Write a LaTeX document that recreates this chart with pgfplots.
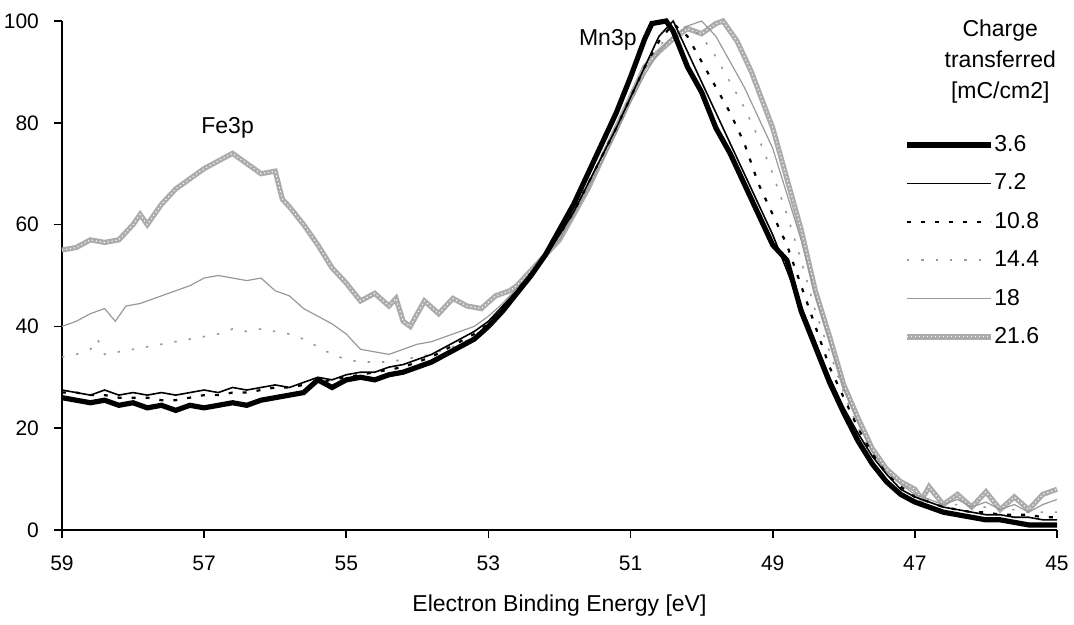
\documentclass[border=0pt]{standalone}
\usepackage{fontspec}
\setmainfont{Liberation Sans}
\usepackage{pgfplots}
\pgfplotsset{compat=1.18}

% 21.6 mC/cm2 (thick grey)
\pgfplotstableread{
E y
59.0 55
58.8 55.5
58.6 57
58.4 56.5
58.2 57
58.0 60
57.9 62
57.8 60
57.6 64
57.4 67
57.2 69
57.0 71
56.8 72.5
56.6 74
56.4 72
56.2 70
56.0 70.5
55.9 65
55.8 63.5
55.6 60
55.4 56
55.2 51.5
55.0 48.5
54.8 45
54.6 46.5
54.4 44
54.3 45.5
54.2 41
54.1 40
53.9 45
53.7 42.5
53.5 45.5
53.3 44
53.1 43.5
52.9 46
52.7 47
52.6 48
52.4 51
52.2 54
52.0 57
51.8 62
51.6 67
51.4 73
51.2 79
51.0 85
50.8 91
50.6 94
50.4 96.5
50.2 98.5
50.0 97.5
49.8 99.5
49.7 100
49.5 96
49.3 90
49.0 79
48.8 69
48.6 59
48.4 47
48.2 38
48.0 28.5
47.8 22
47.6 16
47.4 12
47.2 9.5
47.0 8
46.9 6
46.8 8.5
46.6 5
46.4 7
46.2 4.5
46.0 7.5
45.8 4
45.6 6.5
45.4 4
45.2 7
45.0 8
}\seriesG

% 18 mC/cm2 (thin grey)
\pgfplotstableread{
E y
59.0 40
58.8 41
58.6 42.5
58.4 43.5
58.25 41
58.1 44
57.9 44.5
57.7 45.5
57.4 47
57.2 48
57.0 49.5
56.8 50
56.6 49.5
56.4 49
56.2 49.5
56.0 47
55.8 46
55.6 43.5
55.4 42
55.2 40.5
55.0 38.5
54.8 35.5
54.6 35
54.4 34.5
54.2 35.5
54.0 36.5
53.8 37
53.6 38
53.4 39
53.2 40
53.0 42
52.8 44.5
52.6 47.5
52.4 50.5
52.2 54
52.0 57
51.8 62
51.6 67
51.4 72.5
51.2 78
51.0 84
50.8 89.5
50.6 94
50.4 97
50.2 99
50.0 100
49.8 97
49.6 92
49.4 87
49.2 81
49.0 75
48.8 66
48.6 57
48.4 46
48.2 37
48.0 28
47.8 21
47.6 15.5
47.4 11.5
47.2 9
47.0 7
46.8 6
46.6 5
46.4 6
46.2 4.5
46.0 5.5
45.8 4
45.6 5
45.4 3.5
45.2 5
45.0 6
}\seriesF

% 14.4 mC/cm2 (light dotted)
\pgfplotstableread{
E y
59.0 34
58.8 34.5
58.6 35.5
58.5 37.5
58.4 34.5
58.2 35
58.0 35.5
57.8 36
57.6 36.5
57.4 37
57.2 37.5
57.0 38
56.8 38.5
56.6 39.5
56.4 39
56.2 39.5
56.0 39
55.8 38.5
55.6 37.5
55.4 36
55.2 34.5
55.0 33.5
54.8 33
54.6 33
54.4 33
54.2 33.5
54.0 34
53.8 34.5
53.6 35.5
53.4 36.5
53.2 38
53.0 40.5
52.8 43.5
52.6 47
52.4 50.5
52.2 54
52.0 57.5
51.8 62.5
51.6 68
51.4 73.5
51.2 79
51.0 85
50.8 90.5
50.6 95
50.4 98
50.2 99
50.0 97
49.8 93
49.6 88
49.4 83
49.2 77
49.0 70
48.8 62
48.6 53
48.4 43
48.2 35
48.0 27
47.8 20
47.6 15
47.4 11
47.2 8.5
47.0 7
46.8 6
46.6 5
46.4 5
46.2 4.5
46.0 4.5
45.8 4
45.6 4
45.4 3.5
45.2 3.5
45.0 3.5
}\seriesD

% 10.8 mC/cm2 (dashed)
\pgfplotstableread{
E y
59.0 27
58.8 27
58.6 26.5
58.4 26.5
58.2 26
58.0 26
57.8 26
57.6 25.5
57.4 25.5
57.2 26
57.0 26.5
56.8 26.5
56.6 27
56.4 27
56.2 27.5
56.0 28
55.8 28
55.6 28.5
55.4 29
55.2 29.5
55.0 30
54.8 30.5
54.6 31
54.4 31.5
54.2 32
54.0 33
53.8 34
53.6 35.5
53.4 37
53.2 38.5
53.0 40.5
52.8 43.5
52.6 47
52.4 50.5
52.2 54
52.0 58
51.8 62.5
51.6 68
51.4 73.5
51.2 79
51.0 85
50.8 91
50.6 96
50.4 99.5
50.2 97
50.0 92
49.8 87
49.6 82
49.4 76
49.2 68
49.0 62
48.8 56
48.6 48
48.4 40
48.2 32
48.0 26
47.8 20
47.6 15
47.4 11
47.2 8.5
47.0 6.5
46.8 5.5
46.6 4.5
46.4 4
46.2 3.5
46.0 3.5
45.8 3
45.6 3
45.4 3
45.2 2.5
45.0 2.5
}\seriesC

% 7.2 mC/cm2 (thin black)
\pgfplotstableread{
E y
59.0 27.5
58.8 27
58.6 26.5
58.4 27.5
58.2 26.5
58.0 27
57.8 26.5
57.6 27
57.4 26.5
57.2 27
57.0 27.5
56.8 27
56.6 28
56.4 27.5
56.2 28
56.0 28.5
55.8 28
55.6 29
55.4 30
55.2 29.5
55.0 30.5
54.8 31
54.6 31
54.4 32
54.2 32.5
54.0 33.5
53.8 34.5
53.6 36
53.4 37.5
53.2 39
53.0 41
52.8 44
52.6 47
52.4 50.5
52.2 54
52.0 58
51.8 62.5
51.6 68
51.4 73.5
51.2 79
51.0 85
50.8 91
50.6 97
50.4 100
50.2 94
50.0 88
49.8 82
49.6 76
49.4 70
49.2 64
49.0 58
48.8 51
48.6 44
48.4 37
48.2 30
48.0 24
47.8 19
47.6 14.5
47.4 11
47.2 8
47.0 6.5
46.8 5.5
46.6 4.5
46.4 4
46.2 3.5
46.0 3
45.8 3
45.6 2.5
45.4 2.5
45.2 2
45.0 2
}\seriesB

% 3.6 mC/cm2 (thick black)
\pgfplotstableread{
E y
59.0 26
58.8 25.5
58.6 25
58.4 25.5
58.2 24.5
58.0 25
57.8 24
57.6 24.5
57.4 23.5
57.2 24.5
57.0 24
56.8 24.5
56.6 25
56.4 24.5
56.2 25.5
56.0 26
55.8 26.5
55.6 27
55.4 29.5
55.2 28
55.0 29.5
54.8 30
54.6 29.5
54.4 30.5
54.2 31
54.0 32
53.8 33
53.6 34.5
53.4 36
53.2 37.5
53.0 40
52.8 43
52.6 46.5
52.4 50
52.2 54
52.0 59
51.8 64
51.6 70
51.4 76
51.2 82
51.0 89
50.8 96.5
50.7 99.5
50.5 100
50.4 98
50.2 91
50.0 86
49.8 79
49.6 74
49.4 68
49.2 62
49.0 56
48.8 53
48.6 43
48.4 36
48.2 29
48.0 23
47.8 17.5
47.6 13
47.4 9.5
47.2 7
47.0 5.5
46.8 4.5
46.6 3.5
46.4 3
46.2 2.5
46.0 2
45.8 2
45.6 1.5
45.4 1
45.2 1
45.0 1
}\seriesA

\begin{document}
\begin{tikzpicture}
\begin{axis}[
    scale only axis,
    width=497.5pt, height=254.5pt,
    x dir=reverse,
    xmin=45, xmax=59, ymin=0, ymax=100,
    xtick={45,47,...,59}, ytick={0,20,...,100},
    axis x line=bottom, axis y line=left,
    axis line style={-, line width=0.9pt},
    tick style={black, line width=0.8pt},
    tick align=outside,
    major tick length=4pt,
    clip=false,
    font=\fontsize{11.5}{13.8}\selectfont,
    /pgf/number format/assume math mode=true,
    ticklabel style={font=\fontsize{10.5}{12.6}\selectfont},
    xticklabel style={yshift=-5.5pt},
    yticklabel style={xshift=-4pt},
    xlabel={Electron Binding Energy [eV]},
    xlabel style={yshift=-5pt},
    reverse legend,
    legend style={draw=none, fill=none, at={(rel axis cs:0.846,0.778)}, anchor=north west,
        row sep=8.7pt, inner sep=0pt,
        nodes={inner sep=0.5pt, font=\fontsize{11.5}{13.8}\selectfont}},
    legend cell align=left,
    legend image code/.code={\draw[#1] (0pt,0pt) -- (42pt,0pt);},
]
\addplot[gray!65, line width=2.6pt,
    postaction={draw=white, line width=0.5pt, dash pattern=on 0.6pt off 1.4pt}] table[x=E,y=y] {\seriesG};
\addlegendentry{21.6}
\addplot[gray!80, line width=0.6pt] table[x=E,y=y] {\seriesF};
\addlegendentry{18}
\addplot[gray!80, line width=0.8pt, dash pattern=on 1.2pt off 6pt] table[x=E,y=y] {\seriesD};
\addlegendentry{14.4}
\addplot[black, line width=1.1pt, dash pattern=on 2pt off 5pt] table[x=E,y=y] {\seriesC};
\addlegendentry{10.8}
\addplot[black, line width=0.8pt] table[x=E,y=y] {\seriesB};
\addlegendentry{7.2}
\addplot[black, line width=2.6pt] table[x=E,y=y] {\seriesA};
\addlegendentry{3.6}

\node at (axis cs:56.67,79) {Fe3p};
\node at (axis cs:51.32,96.3) {Mn3p};
\node[align=center, font=\fontsize{11.5}{15.5}\selectfont] at (rel axis cs:0.943,0.921)
    {Charge\\transferred\\{}[mC/cm2]};

\coordinate (sw) at (rel axis cs:0,0);
\coordinate (ne) at (rel axis cs:1,1);
\end{axis}
\pgfresetboundingbox
\path ([shift={(-31pt,-47.5pt)}]sw) rectangle ([shift={(8.5pt,10.5pt)}]ne);
\end{tikzpicture}
\end{document}
